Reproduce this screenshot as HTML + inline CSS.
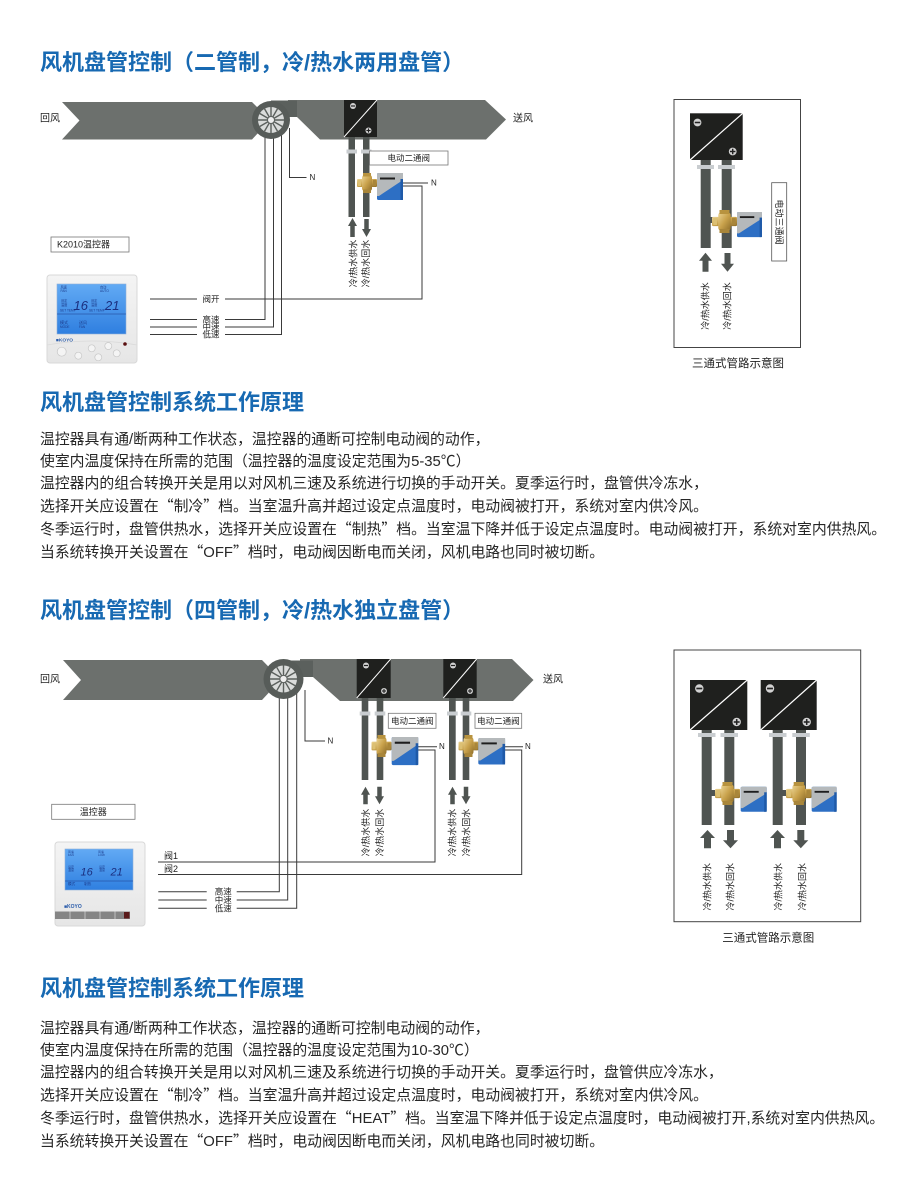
<!DOCTYPE html>
<html><head><meta charset="utf-8">
<style>
html,body{margin:0;padding:0;background:#fff;}
body{width:915px;height:1179px;position:relative;overflow:hidden;font-family:"Liberation Sans","Noto Sans CJK SC",sans-serif;}
.t{position:absolute;left:40px;font-weight:bold;font-size:22px;line-height:22px;color:#1769b2;white-space:nowrap;}
.p{position:absolute;left:40px;font-size:14.85px;line-height:22px;color:#262626;white-space:nowrap;}
.q{font-family:"Noto Sans CJK SC",sans-serif;}
svg{position:absolute;left:0;top:0;}
svg text{font-family:"Liberation Sans","Noto Sans CJK SC",sans-serif;fill:#222;}
</style></head><body>

<svg width="915" height="1179" viewBox="0 0 915 1179">
<defs>
 <linearGradient id="brass" x1="0" y1="0" x2="1" y2="1"><stop offset="0" stop-color="#ecd595"/><stop offset="0.5" stop-color="#c9a24c"/><stop offset="1" stop-color="#8f6e2a"/></linearGradient>
 <linearGradient id="scr" x1="0" y1="0" x2="0" y2="1"><stop offset="0" stop-color="#62aaf4"/><stop offset="1" stop-color="#2f7fe0"/></linearGradient>
 <linearGradient id="body" x1="0" y1="0" x2="0" y2="1"><stop offset="0" stop-color="#f4f4f4"/><stop offset="1" stop-color="#e6e6e6"/></linearGradient>
 <g id="valve">
  <rect x="0" y="6" width="20" height="8" rx="1" fill="url(#brass)"/>
  <rect x="5" y="2" width="10" height="16" rx="2.5" fill="url(#brass)"/>
  <rect x="6" y="0" width="8" height="3.5" fill="#b8933f"/>
  <rect x="6" y="16.5" width="8" height="3.5" fill="#a9863a"/>
  <rect x="1" y="7" width="3" height="6" fill="#dcc073"/>
  <rect x="16" y="7" width="3" height="6" fill="#a9863a"/>
 </g>
 <g id="act">
  <rect x="0" y="0" width="26" height="27" rx="1.5" fill="#2d6fc4"/>
  <path d="M0 1.5 Q0 0 1.5 0 H26 V7 L2 23 H0 Z" fill="#b5b9bb"/>
  <rect x="3" y="4.5" width="15" height="2" fill="#1e1e1e"/>
  <rect x="23.5" y="6" width="2.5" height="21" fill="#1f5aa8"/>
 </g>
 <g id="mi"><circle r="3" fill="#d2d2d2"/><rect x="-2.1" y="-0.6" width="4.2" height="1.2" fill="#222"/></g>
 <g id="pl"><circle r="3" fill="#d2d2d2"/><rect x="-2.1" y="-0.55" width="4.2" height="1.1" fill="#222"/><rect x="-0.55" y="-2.1" width="1.1" height="4.2" fill="#222"/></g>
</defs>

<!-- ================= TOP MAIN DIAGRAM ================= -->
<text x="40" y="119" font-size="10" dominant-baseline="central">回风</text>
<text x="513" y="119" font-size="10" dominant-baseline="central">送风</text>

<g stroke="#3a3a3a" stroke-width="1" fill="none">
 <path d="M265 125 V319.5 H225 M273.5 125 V327 H225 M281.5 125 V334.5 H225"/>
 <path d="M150 319.5 H197 M150 327 H197 M150 334.5 H197"/>
 <path d="M150 299 H197 M225 299 H422 V186 H403"/>
 <path d="M403 183 H428"/>
 <path d="M289.5 128 V177.5 H306.5"/>
</g>
<g font-size="8.5" text-anchor="middle" dominant-baseline="central">
 <text x="211" y="299">阀开</text>
 <text x="211" y="319.5">高速</text>
 <text x="211" y="327">中速</text>
 <text x="211" y="334.5">低速</text>
</g>
<text x="309.5" y="177.5" font-size="8" dominant-baseline="central">N</text>
<text x="431" y="183" font-size="8" dominant-baseline="central">N</text>

<polygon points="62,102 252,102 270,120 252,139.5 62,139.5 79.5,120.5" fill="#6c706d"/>
<polygon points="288,100 485,100 506,119.5 486,139.5 320,139.5 297,117 288,117" fill="#6c706d"/>
<rect x="271" y="100.5" width="26" height="16.5" fill="#5b605d"/>
<circle cx="271" cy="120" r="19" fill="#575c59"/>
<circle cx="271" cy="120" r="13" fill="#dadcdb"/>
<g stroke="#5b605d" stroke-width="1.4">
 <line x1="258" y1="120" x2="284" y2="120"/>
 <line x1="259.74" y1="113.5" x2="282.26" y2="126.5"/>
 <line x1="264.5" y1="108.74" x2="277.5" y2="131.26"/>
 <line x1="271" y1="107" x2="271" y2="133"/>
 <line x1="277.5" y1="108.74" x2="264.5" y2="131.26"/>
 <line x1="282.26" y1="113.5" x2="259.74" y2="126.5"/>
</g>
<circle cx="271" cy="120" r="3.5" fill="#eee" stroke="#5b605d" stroke-width="1"/>

<rect x="348.5" y="137" width="6.5" height="80" fill="#4f5451"/>
<rect x="363" y="137" width="6.5" height="80" fill="#4f5451"/>
<rect x="346.5" y="149.5" width="10.5" height="4" fill="#c9cdd0"/>
<rect x="361" y="149.5" width="10.5" height="4" fill="#c9cdd0"/>
<rect x="344" y="100" width="33" height="37" fill="#1f201e"/>
<line x1="344" y1="137" x2="377" y2="100" stroke="#fff" stroke-width="1"/>
<use href="#mi" transform="translate(353,106)"/>
<use href="#pl" transform="translate(368.5,130.5)"/>
<use href="#valve" transform="translate(357,173)"/>
<use href="#act" transform="translate(377,173)"/>
<rect x="369.5" y="151" width="78.5" height="14" fill="#fff" stroke="#777" stroke-width="0.8"/>
<text x="408.75" y="158" font-size="8.5" text-anchor="middle" dominant-baseline="central">电动二通阀</text>
<polygon points="352.5,218 357,226 354.75,226 354.75,237 350.25,237 350.25,226 348,226" fill="#4f5451"/>
<polygon points="364.25,219 368.75,219 368.75,229 371,229 366.5,237 362,229 364.25,229" fill="#4f5451"/>
<text transform="translate(353.3,263.5) rotate(-90)" font-size="9" text-anchor="middle" dominant-baseline="central">冷/热水供水</text>
<text transform="translate(365.9,263.5) rotate(-90)" font-size="9" text-anchor="middle" dominant-baseline="central">冷/热水回水</text>

<rect x="51" y="237" width="78" height="15" fill="#fff" stroke="#777" stroke-width="0.8"/>
<text x="57" y="244.5" font-size="9" dominant-baseline="central">K2010温控器</text>

<rect x="47" y="275" width="90" height="88" rx="3" fill="url(#body)" stroke="#d8d8d8"/>
<rect x="57" y="284" width="69" height="50" fill="url(#scr)" stroke="#8fb0d8" stroke-width="0.6"/>
<g font-size="3.2" fill="#1b3a8a">
 <text x="60.5" y="288.5" style="fill:#1b3a8a">风速</text><text x="60.5" y="292" style="fill:#1b3a8a">FAN</text>
 <text x="100" y="288.5" style="fill:#1b3a8a">自动</text><text x="100" y="292" style="fill:#1b3a8a">AUTO</text>
 <text x="61" y="302" style="fill:#1b3a8a">设定</text><text x="61" y="306" style="fill:#1b3a8a">温度</text>
 <text x="91" y="302" style="fill:#1b3a8a">设定</text><text x="91" y="306" style="fill:#1b3a8a">温度</text>
 <text x="60" y="311.5" style="fill:#1b3a8a">SET TEMP</text><text x="89" y="311.5" style="fill:#1b3a8a">SET TEMP</text>
 <text x="60" y="324" font-size="4" style="fill:#1b3a8a">模式</text><text x="60" y="328" style="fill:#1b3a8a">MODE</text>
 <text x="79" y="324" font-size="4" style="fill:#1b3a8a">送风</text><text x="79" y="328" style="fill:#1b3a8a">FAN</text>
</g>
<text x="73.5" y="310" font-size="13" font-style="italic" style="fill:#1b2f7f">16</text>
<text x="105" y="310" font-size="13" font-style="italic" style="fill:#1b2f7f">21</text>
<line x1="57" y1="314" x2="126" y2="314" stroke="#1b3a8a" stroke-width="0.5"/>
<text x="56" y="341.5" font-size="4.8" font-weight="bold" style="fill:#2a5cab">■KOYO</text>
<path d="M47 345 Q92 337 137 345" stroke="#dadada" fill="none" stroke-width="0.8"/>
<g fill="#f4f4f4" stroke="#c6c6c6" stroke-width="0.7">
 <circle cx="61.7" cy="351.7" r="4.5"/>
 <circle cx="78.3" cy="355.7" r="3.5"/>
 <circle cx="91.7" cy="348.3" r="3.5"/>
 <circle cx="98.3" cy="357.3" r="3.5"/>
 <circle cx="108.3" cy="346" r="3.5"/>
 <circle cx="116.7" cy="353.3" r="3.5"/>
</g>
<circle cx="125" cy="344" r="1.8" fill="#5a1010"/>

<!-- ================= TOP RIGHT BOX ================= -->
<rect x="674" y="99.5" width="126.5" height="248" fill="#fff" stroke="#444" stroke-width="1"/>
<rect x="700.7" y="158" width="10" height="90" fill="#4f5451"/>
<rect x="721.7" y="158" width="10" height="90" fill="#4f5451"/>
<rect x="697" y="165" width="17" height="4" fill="#c9cdd0"/>
<rect x="718" y="165" width="17" height="4" fill="#c9cdd0"/>
<rect x="690" y="113.3" width="52.7" height="46.7" fill="#1f201e"/>
<line x1="690" y1="160" x2="742.7" y2="113.3" stroke="#fff" stroke-width="1.2"/>
<use href="#mi" transform="translate(697.5,122.5) scale(1.3)"/>
<use href="#pl" transform="translate(732.7,151.5) scale(1.3)"/>
<rect x="710" y="217" width="6" height="6" fill="#4f5451"/>
<use href="#valve" transform="translate(712,210) scale(1.25,1.15)"/>
<use href="#act" transform="translate(737,212) scale(0.96,0.93)"/>
<rect x="771.7" y="182.7" width="15" height="78.3" fill="#fff" stroke="#555" stroke-width="0.8"/>
<text transform="translate(779.2,222) rotate(90)" font-size="9" text-anchor="middle" dominant-baseline="central">电动三通阀</text>
<polygon points="705.5,252.7 712,260.7 708.5,260.7 708.5,271.7 702.5,271.7 702.5,260.7 699,260.7" fill="#4f5451"/>
<polygon points="724.5,253 730.5,253 730.5,263.7 734,263.7 727.5,271.7 721,263.7 724.5,263.7" fill="#4f5451"/>
<text transform="translate(705.3,306) rotate(-90)" font-size="9" text-anchor="middle" dominant-baseline="central">冷/热水供水</text>
<text transform="translate(727.3,306) rotate(-90)" font-size="9" text-anchor="middle" dominant-baseline="central">冷/热水回水</text>
<text x="738" y="364" font-size="11.5" text-anchor="middle" dominant-baseline="central">三通式管路示意图</text>

<!-- ================= BOTTOM MAIN DIAGRAM ================= -->
<text x="40" y="680" font-size="10" dominant-baseline="central">回风</text>
<text x="543" y="680" font-size="10" dominant-baseline="central">送风</text>

<g stroke="#3a3a3a" stroke-width="1" fill="none">
 <path d="M279.3 690 V891.7 H236.7 M287.7 690 V900 H236.7 M296.7 690 V908.3 H236.7"/>
 <path d="M158.3 891.7 H206.7 M158.3 900 H206.7 M158.3 908.3 H206.7"/>
 <path d="M418 750 H435 V862 H158"/>
 <path d="M505 750 H521.7 V874.5 H158"/>
 <path d="M418 746.7 H437"/>
 <path d="M505 746.7 H523"/>
 <path d="M305 690 V741 H325"/>
</g>
<g font-size="8.5" text-anchor="middle" dominant-baseline="central">
 <text x="223.3" y="891.7">高速</text>
 <text x="223.3" y="900">中速</text>
 <text x="223.3" y="908.3">低速</text>
</g>
<text x="164" y="856" font-size="9" dominant-baseline="central">阀1</text>
<text x="164" y="869" font-size="9" dominant-baseline="central">阀2</text>
<text x="327.5" y="741" font-size="8" dominant-baseline="central">N</text>
<text x="439" y="746.7" font-size="8" dominant-baseline="central">N</text>
<text x="525" y="746.7" font-size="8" dominant-baseline="central">N</text>

<polygon points="63,660 262,660 281,679.5 262,700 63,700 81,680" fill="#6c706d"/>
<polygon points="300,659 512,659 533.5,680 513,701 340,701 313,677 300,677" fill="#6c706d"/>
<rect x="284" y="660.5" width="29" height="16.5" fill="#5b605d"/>
<circle cx="283.5" cy="679" r="20" fill="#575c59"/>
<circle cx="283.5" cy="679" r="13.5" fill="#dadcdb"/>
<g stroke="#5b605d" stroke-width="1.4">
 <line x1="270" y1="679" x2="297" y2="679"/>
 <line x1="271.8" y1="672.25" x2="295.2" y2="685.75"/>
 <line x1="276.75" y1="667.3" x2="290.25" y2="690.7"/>
 <line x1="283.5" y1="665.5" x2="283.5" y2="692.5"/>
 <line x1="290.25" y1="667.3" x2="276.75" y2="690.7"/>
 <line x1="295.2" y1="672.25" x2="271.8" y2="685.75"/>
</g>
<circle cx="283.5" cy="679" r="3.6" fill="#eee" stroke="#5b605d" stroke-width="1"/>

<rect x="361.7" y="697" width="6.6" height="83" fill="#4f5451"/>
<rect x="376.7" y="697" width="6.6" height="83" fill="#4f5451"/>
<rect x="449" y="697" width="6.7" height="83" fill="#4f5451"/>
<rect x="462.7" y="697" width="6.6" height="83" fill="#4f5451"/>
<rect x="359.7" y="711.5" width="10.6" height="4" fill="#c9cdd0"/>
<rect x="374.7" y="711.5" width="10.6" height="4" fill="#c9cdd0"/>
<rect x="447" y="711.5" width="10.7" height="4" fill="#c9cdd0"/>
<rect x="460.7" y="711.5" width="10.6" height="4" fill="#c9cdd0"/>
<rect x="356.7" y="659" width="34" height="39" fill="#1f201e"/>
<line x1="356.7" y1="698" x2="390.7" y2="659" stroke="#fff" stroke-width="1"/>
<use href="#mi" transform="translate(366,665.5)"/>
<use href="#pl" transform="translate(384,691)"/>
<rect x="443.3" y="659" width="33.4" height="39" fill="#1f201e"/>
<line x1="443.3" y1="698" x2="476.7" y2="659" stroke="#fff" stroke-width="1"/>
<use href="#mi" transform="translate(453,665.5)"/>
<use href="#pl" transform="translate(470,691)"/>
<use href="#valve" transform="translate(371.5,735) scale(1,1.1)"/>
<use href="#act" transform="translate(391.7,737) scale(1.02,1.04)"/>
<use href="#valve" transform="translate(458.5,735) scale(1,1.1)"/>
<use href="#act" transform="translate(478.3,738) scale(1.03,0.98)"/>
<rect x="388.3" y="713.3" width="47.7" height="15" fill="#fff" stroke="#777" stroke-width="0.8"/>
<text x="412.2" y="720.8" font-size="8.5" text-anchor="middle" dominant-baseline="central">电动二通阀</text>
<rect x="475" y="713.3" width="46.7" height="15" fill="#fff" stroke="#777" stroke-width="0.8"/>
<text x="498.4" y="720.8" font-size="8.5" text-anchor="middle" dominant-baseline="central">电动二通阀</text>
<g fill="#4f5451">
 <polygon points="365.5,786.7 370,794.7 367.75,794.7 367.75,804.3 363.25,804.3 363.25,794.7 361,794.7"/>
 <polygon points="377.25,786.7 381.75,786.7 381.75,796.3 384,796.3 379.5,804.3 375,796.3 377.25,796.3"/>
 <polygon points="452.5,786.7 457,794.7 454.75,794.7 454.75,804.3 450.25,804.3 450.25,794.7 448,794.7"/>
 <polygon points="463.75,786.7 468.25,786.7 468.25,796.3 470.5,796.3 466,804.3 461.5,796.3 463.75,796.3"/>
</g>
<g font-size="9" text-anchor="middle" dominant-baseline="central">
 <text transform="translate(366,832.5) rotate(-90)">冷/热水供水</text>
 <text transform="translate(380,832.5) rotate(-90)">冷/热水回水</text>
 <text transform="translate(452.7,832.5) rotate(-90)">冷/热水供水</text>
 <text transform="translate(466.7,832.5) rotate(-90)">冷/热水回水</text>
</g>

<rect x="51.7" y="804.3" width="83.3" height="15" fill="#fff" stroke="#777" stroke-width="0.8"/>
<text x="93.3" y="811.8" font-size="9" text-anchor="middle" dominant-baseline="central">温控器</text>

<rect x="55" y="842" width="90" height="84" rx="3" fill="url(#body)" stroke="#d8d8d8"/>
<rect x="65" y="849" width="68" height="41" fill="url(#scr)" stroke="#8fb0d8" stroke-width="0.6"/>
<g font-size="3" >
 <text x="68" y="853" style="fill:#1b3a8a">风速</text><text x="68" y="856" style="fill:#1b3a8a">FAN</text>
 <text x="98" y="853" style="fill:#1b3a8a">风速</text><text x="98" y="856" style="fill:#1b3a8a">LOW</text>
 <text x="68" y="868" style="fill:#1b3a8a">设定</text><text x="68" y="871" style="fill:#1b3a8a">温度</text>
 <text x="99" y="868" style="fill:#1b3a8a">设定</text><text x="99" y="871" style="fill:#1b3a8a">温度</text>
 <text x="68" y="885" font-size="3.6" style="fill:#1b3a8a">模式</text>
 <text x="84" y="885" font-size="3.6" style="fill:#1b3a8a">制热</text>
</g>
<text x="80.5" y="875.5" font-size="11" font-style="italic" style="fill:#1b2f7f">16</text>
<text x="110.5" y="875.5" font-size="11" font-style="italic" style="fill:#1b2f7f">21</text>
<line x1="65" y1="881" x2="133" y2="881" stroke="#1b3a8a" stroke-width="0.5"/>
<text x="64" y="908" font-size="5" font-weight="bold" style="fill:#2a5cab">■KOYO</text>
<rect x="55" y="911.5" width="75" height="7.5" fill="#858585"/>
<g stroke="#cfcfcf" stroke-width="0.8">
 <line x1="70" y1="911.5" x2="70" y2="919"/>
 <line x1="85" y1="911.5" x2="85" y2="919"/>
 <line x1="100" y1="911.5" x2="100" y2="919"/>
 <line x1="115" y1="911.5" x2="115" y2="919"/>
</g>
<rect x="124" y="912" width="5.5" height="6.5" fill="#5a1a1a"/>

<!-- ================= BOTTOM RIGHT BOX ================= -->
<rect x="674" y="650" width="186.7" height="271.7" fill="#fff" stroke="#444" stroke-width="1"/>
<g fill="#4f5451">
 <rect x="701.7" y="728" width="10" height="97"/>
 <rect x="724.3" y="728" width="10" height="97"/>
 <rect x="772.7" y="728" width="10" height="97"/>
 <rect x="796" y="728" width="10" height="97"/>
</g>
<g fill="#c9cdd0">
 <rect x="698" y="733" width="17.5" height="4"/>
 <rect x="720.5" y="733" width="17.5" height="4"/>
 <rect x="769" y="733" width="17.5" height="4"/>
 <rect x="792.3" y="733" width="17.5" height="4"/>
</g>
<rect x="690" y="680" width="57.3" height="50" fill="#1f201e"/>
<line x1="690" y1="730" x2="747.3" y2="680" stroke="#fff" stroke-width="1.2"/>
<use href="#mi" transform="translate(699.3,688.5) scale(1.4)"/>
<use href="#pl" transform="translate(736.7,722) scale(1.4)"/>
<rect x="760.7" y="680" width="56" height="50" fill="#1f201e"/>
<line x1="760.7" y1="730" x2="816.7" y2="680" stroke="#fff" stroke-width="1.2"/>
<use href="#mi" transform="translate(770,688.5) scale(1.4)"/>
<use href="#pl" transform="translate(806.7,722) scale(1.4)"/>
<rect x="711" y="790" width="6" height="6" fill="#4f5451"/>
<rect x="782" y="790" width="6" height="6" fill="#4f5451"/>
<use href="#valve" transform="translate(715,782) scale(1.25,1.15)"/>
<use href="#act" transform="translate(740.7,786.7) scale(1,0.93)"/>
<use href="#valve" transform="translate(786,782) scale(1.28,1.15)"/>
<use href="#act" transform="translate(811.7,786.7) scale(0.96,0.93)"/>
<g fill="#4f5451">
 <polygon points="707.5,830 715,838 711,838 711,848.3 704,848.3 704,838 700,838"/>
 <polygon points="727,830 734,830 734,840.3 738,840.3 730.5,848.3 723,840.3 727,840.3"/>
 <polygon points="777.5,830 785,838 781,838 781,848.3 774,848.3 774,838 770,838"/>
 <polygon points="797.3,830 804.3,830 804.3,840.3 808.3,840.3 800.8,848.3 793.3,840.3 797.3,840.3"/>
</g>
<g font-size="9" text-anchor="middle" dominant-baseline="central">
 <text transform="translate(707.3,886.7) rotate(-90)">冷/热水供水</text>
 <text transform="translate(730.7,886.7) rotate(-90)">冷/热水回水</text>
 <text transform="translate(778.3,886.7) rotate(-90)">冷/热水供水</text>
 <text transform="translate(802.7,886.7) rotate(-90)">冷/热水回水</text>
</g>
<text x="768.3" y="938.3" font-size="11.5" text-anchor="middle" dominant-baseline="central">三通式管路示意图</text>
</svg>

<div class="t" style="top:52px;">风机盘管控制（二管制，冷/热水两用盘管）</div>
<div class="t" style="top:392px;">风机盘管控制系统工作原理</div>
<div class="p" style="top:429px;">
温控器具有通/断两种工作状态，温控器的通断可控制电动阀的动作，<br>
使室内温度保持在所需的范围（温控器的温度设定范围为5-35℃）<br>
温控器内的组合转换开关是用以对风机三速及系统进行切换的手动开关。夏季运行时，盘管供冷冻水，<br>
选择开关应设置在<span class="q">“</span>制冷<span class="q">”</span>档。当室温升高并超过设定点温度时，电动阀被打开，系统对室内供冷风。<br>
冬季运行时，盘管供热水，选择开关应设置在<span class="q">“</span>制热<span class="q">”</span>档。当室温下降并低于设定点温度时。电动阀被打开，系统对室内供热风。<br>
当系统转换开关设置在<span class="q">“</span>OFF<span class="q">”</span>档时，电动阀因断电而关闭，风机电路也同时被切断。
</div>

<div class="t" style="top:600px;">风机盘管控制（四管制，冷/热水独立盘管）</div>
<div class="t" style="top:978px;">风机盘管控制系统工作原理</div>
<div class="p" style="top:1018px;">
温控器具有通/断两种工作状态，温控器的通断可控制电动阀的动作，<br>
使室内温度保持在所需的范围（温控器的温度设定范围为10-30℃）<br>
温控器内的组合转换开关是用以对风机三速及系统进行切换的手动开关。夏季运行时，盘管供应冷冻水，<br>
选择开关应设置在<span class="q">“</span>制冷<span class="q">”</span>档。当室温升高并超过设定点温度时，电动阀被打开，系统对室内供冷风。<br>
冬季运行时，盘管供热水，选择开关应设置在<span class="q">“</span>HEAT<span class="q">”</span>档。当室温下降并低于设定点温度时，电动阀被打开,系统对室内供热风。<br>
当系统转换开关设置在<span class="q">“</span>OFF<span class="q">”</span>档时，电动阀因断电而关闭，风机电路也同时被切断。
</div>

</body></html>
